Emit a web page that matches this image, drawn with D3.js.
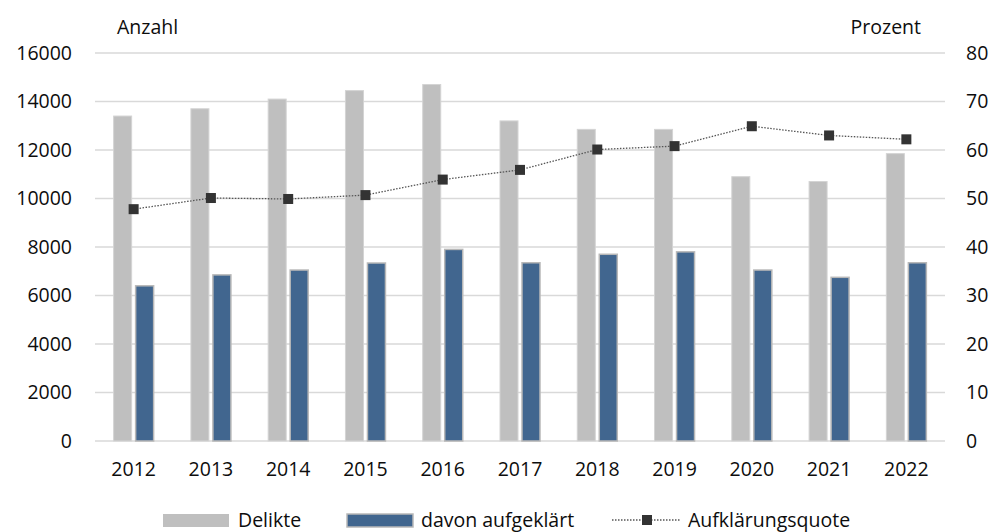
<!DOCTYPE html>
<html>
<head>
<meta charset="utf-8">
<script src="https://cdn.jsdelivr.net/npm/d3@7"></script>
<style>
  body { margin: 0; background: #fff; }
  text { font-family: "Open Sans", sans-serif; fill: #0d0d0d; }
</style>
</head>
<body>
<svg width="990" height="532"></svg>
<script>
const years = ["2012", "2013", "2014", "2015", "2016", "2017", "2018", "2019", "2020", "2021", "2022"];
const delikte = [13400, 13700, 14100, 14450, 14700, 13200, 12850, 12850, 10900, 10700, 11850];
const aufgeklaert = [6400, 6850, 7050, 7340, 7900, 7350, 7700, 7800, 7050, 6750, 7350];
const quote = [47.8, 50.1, 49.9, 50.7, 53.9, 55.9, 60.1, 60.8, 64.9, 63.0, 62.2];
const leftTicks = [0, 2000, 4000, 6000, 8000, 10000, 12000, 14000, 16000];
const rightTicks = [0, 10, 20, 30, 40, 50, 60, 70, 80];

let margin = {top: 53, right: 45, bottom: 91, left: 95};
let width = 990 - margin.left - margin.right;
let height = 532 - margin.top - margin.bottom;
let fs = "19.5px";

let svg = d3.select("svg")
    .append("g")
    .attr("transform", "translate(" + margin.left + "," + margin.top + ")");

let x = d3.scaleBand().domain(years).range([0, width]);
let yL = d3.scaleLinear().domain([0, 16000]).range([height, 0]);
let yR = d3.scaleLinear().domain([0, 80]).range([height, 0]);

let barW = 18;
let cx = d => x(d) + x.bandwidth() / 2;

// gridlines
svg.append("g").selectAll("line")
    .data(leftTicks)
    .join("line")
    .attr("x1", 0)
    .attr("x2", width)
    .attr("y1", d => yL(d))
    .attr("y2", d => yL(d))
    .style("stroke", "#d9d9d9")
    .style("stroke-width", 1.5);

// left ticks
svg.append("g").selectAll("text")
    .data(leftTicks)
    .join("text")
    .attr("x", -23)
    .attr("y", d => yL(d))
    .attr("dy", "0.35em")
    .attr("text-anchor", "end")
    .attr("font-size", fs)
    .text(d => d);

// right ticks
svg.append("g").selectAll("text")
    .data(rightTicks)
    .join("text")
    .attr("x", width + 21)
    .attr("y", d => yR(d))
    .attr("dy", "0.35em")
    .attr("text-anchor", "start")
    .attr("font-size", fs)
    .text(d => d);

// x labels
svg.append("g").selectAll("text")
    .data(years)
    .join("text")
    .attr("x", d => cx(d))
    .attr("y", height + 35)
    .attr("text-anchor", "middle")
    .attr("font-size", fs)
    .text(d => d);

// axis titles
svg.append("text")
    .attr("x", 22).attr("y", -19)
    .attr("font-size", fs)
    .text("Anzahl");
svg.append("text")
    .attr("x", width - 24).attr("y", -19)
    .attr("text-anchor", "end")
    .attr("font-size", fs)
    .text("Prozent");

// bars
svg.append("g").selectAll("rect")
    .data(years)
    .join("rect")
    .attr("x", (d) => cx(d) - barW - 2)
    .attr("y", (d, i) => yL(delikte[i]))
    .attr("width", barW)
    .attr("height", (d, i) => height - yL(delikte[i]))
    .style("fill", "#bfbfbf")
    .style("stroke", "#d4d4d4")
    .style("stroke-width", 1);

svg.append("g").selectAll("rect")
    .data(years)
    .join("rect")
    .attr("x", (d) => cx(d) + 2)
    .attr("y", (d, i) => yL(aufgeklaert[i]))
    .attr("width", barW)
    .attr("height", (d, i) => height - yL(aufgeklaert[i]))
    .style("fill", "#41668f")
    .style("stroke", "#b8b8b8")
    .style("stroke-width", 1.5);

// quote line
let line = d3.line()
    .x((d, i) => cx(years[i]))
    .y(d => yR(d));

svg.append("path")
    .datum(quote)
    .attr("d", line)
    .style("fill", "none")
    .style("stroke", "#555")
    .style("stroke-width", 1.3)
    .style("stroke-dasharray", "1.5,1.5");

svg.append("g").selectAll("rect")
    .data(quote)
    .join("rect")
    .attr("x", (d, i) => cx(years[i]) - 5)
    .attr("y", d => yR(d) - 5)
    .attr("width", 10)
    .attr("height", 10)
    .style("fill", "#333");

// legend
let legend = d3.select("svg").append("g");
let ly = 520;

legend.append("rect")
    .attr("x", 163).attr("y", ly - 6)
    .attr("width", 66).attr("height", 13)
    .style("fill", "#bfbfbf");
legend.append("text")
    .attr("x", 238).attr("y", ly).attr("dy", "0.35em")
    .attr("font-size", fs)
    .text("Delikte");

legend.append("rect")
    .attr("x", 347).attr("y", ly - 6)
    .attr("width", 66).attr("height", 13)
    .style("fill", "#41668f")
    .style("stroke", "#b8b8b8")
    .style("stroke-width", 1.5);
legend.append("text")
    .attr("x", 421).attr("y", ly).attr("dy", "0.35em")
    .attr("font-size", fs)
    .text("davon aufgeklärt");

legend.append("line")
    .attr("x1", 612).attr("x2", 680)
    .attr("y1", ly).attr("y2", ly)
    .style("stroke", "#555")
    .style("stroke-width", 1.3)
    .style("stroke-dasharray", "1.5,1.5");
legend.append("rect")
    .attr("x", 642).attr("y", ly - 5)
    .attr("width", 10).attr("height", 10)
    .style("fill", "#333");
legend.append("text")
    .attr("x", 688).attr("y", ly).attr("dy", "0.35em")
    .attr("font-size", fs)
    .text("Aufklärungsquote");
</script>
</body>
</html>
